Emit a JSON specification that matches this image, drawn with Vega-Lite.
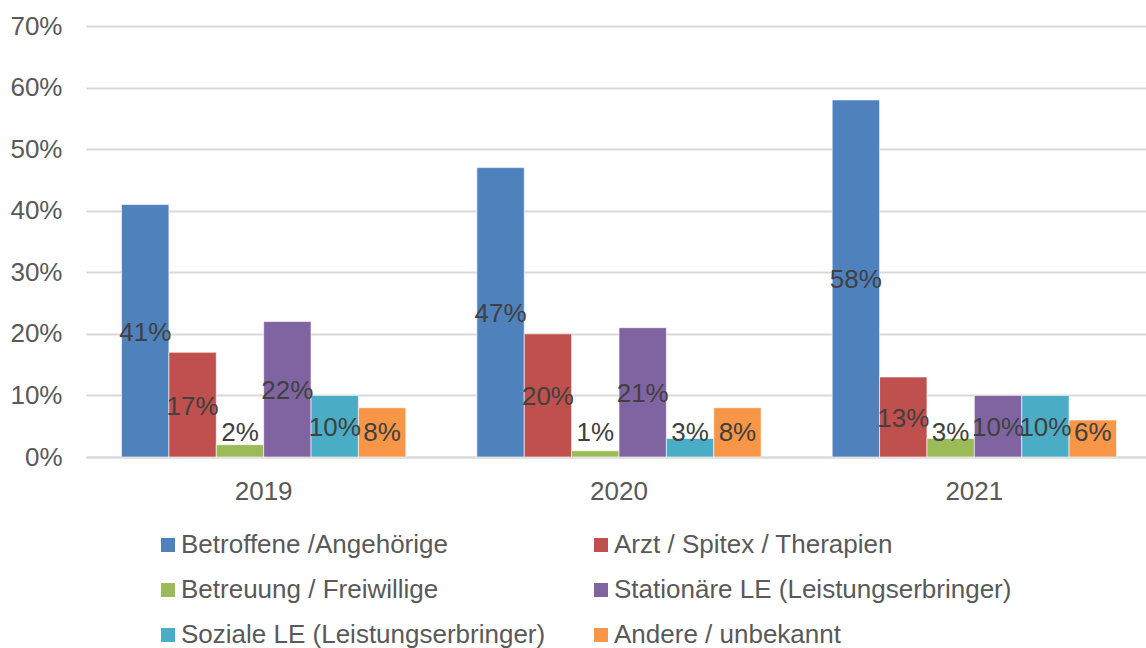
{
  "$schema": "https://vega.github.io/schema/vega-lite/v6.json",
  "width": 1060,
  "height": 431,
  "autosize": {"type": "none"},
  "padding": {"left": 86, "top": 26, "right": 0, "bottom": 191},
  "background": "white",
  "config": {
    "view": {"stroke": null},
    "font": "Liberation Sans"
  },
  "data": {
    "values": [
      {"year": "2019", "category": "Betroffene /Angehörige", "value": 0.41},
      {"year": "2019", "category": "Arzt / Spitex / Therapien", "value": 0.17},
      {"year": "2019", "category": "Betreuung / Freiwillige", "value": 0.02},
      {"year": "2019", "category": "Stationäre LE (Leistungserbringer)", "value": 0.22},
      {"year": "2019", "category": "Soziale LE (Leistungserbringer)", "value": 0.10},
      {"year": "2019", "category": "Andere / unbekannt", "value": 0.08},
      {"year": "2020", "category": "Betroffene /Angehörige", "value": 0.47},
      {"year": "2020", "category": "Arzt / Spitex / Therapien", "value": 0.20},
      {"year": "2020", "category": "Betreuung / Freiwillige", "value": 0.01},
      {"year": "2020", "category": "Stationäre LE (Leistungserbringer)", "value": 0.21},
      {"year": "2020", "category": "Soziale LE (Leistungserbringer)", "value": 0.03},
      {"year": "2020", "category": "Andere / unbekannt", "value": 0.08},
      {"year": "2021", "category": "Betroffene /Angehörige", "value": 0.58},
      {"year": "2021", "category": "Arzt / Spitex / Therapien", "value": 0.13},
      {"year": "2021", "category": "Betreuung / Freiwillige", "value": 0.03},
      {"year": "2021", "category": "Stationäre LE (Leistungserbringer)", "value": 0.10},
      {"year": "2021", "category": "Soziale LE (Leistungserbringer)", "value": 0.10},
      {"year": "2021", "category": "Andere / unbekannt", "value": 0.06}
    ]
  },
  "encoding": {
    "x": {
      "field": "year",
      "type": "nominal",
      "scale": {"range": [0, 1066], "paddingInner": 0.2, "paddingOuter": 0.1},
      "axis": {
        "title": null,
        "labelAngle": 0,
        "ticks": false,
        "domainColor": "#d9d9d9",
        "domainWidth": 2,
        "labelFontSize": 26,
        "labelColor": "#595959",
        "labelPadding": 21
      }
    },
    "xOffset": {
      "field": "category",
      "type": "nominal",
      "scale": {"domain": ["Betroffene /Angehörige", "Arzt / Spitex / Therapien", "Betreuung / Freiwillige", "Stationäre LE (Leistungserbringer)", "Soziale LE (Leistungserbringer)", "Andere / unbekannt"]}
    }
  },
  "layer": [
    {
      "mark": {"type": "bar", "stroke": "white", "strokeWidth": 1, "strokeOpacity": 0.6},
      "encoding": {
        "y": {
          "field": "value",
          "type": "quantitative",
          "scale": {"domain": [0, 0.7], "nice": false},
          "axis": {
            "title": null,
            "values": [0, 0.1, 0.2, 0.3, 0.4, 0.5, 0.6, 0.7],
            "format": ".0%",
            "ticks": false,
            "domain": false,
            "gridColor": "#d9d9d9",
            "gridWidth": 2,
            "labelFontSize": 26,
            "labelColor": "#595959",
            "labelPadding": 24
          }
        },
        "color": {
          "field": "category",
          "type": "nominal",
          "scale": {
            "domain": ["Betroffene /Angehörige", "Arzt / Spitex / Therapien", "Betreuung / Freiwillige", "Stationäre LE (Leistungserbringer)", "Soziale LE (Leistungserbringer)", "Andere / unbekannt"],
            "range": ["#4f81bd", "#c0504d", "#9bbb59", "#8064a2", "#4bacc6", "#f79646"]
          },
          "legend": {
            "title": null,
            "orient": "none",
            "direction": "horizontal",
            "legendX": 69,
            "legendY": 506,
            "columns": 2,
            "columnPadding": 42,
            "rowPadding": 19,
            "symbolType": "square",
            "symbolSize": 196,
            "symbolStrokeWidth": 0,
            "labelFontSize": 26,
            "labelColor": "#595959",
            "labelOffset": 0,
            "labelLimit": 800
          }
        }
      }
    },
    {
      "transform": [{"calculate": "max(datum.value / 2, 0.042)", "as": "labelY"}],
      "mark": {"type": "text", "fontSize": 26, "color": "#404040", "baseline": "middle", "align": "center", "dy": 2},
      "encoding": {
        "y": {"field": "labelY", "type": "quantitative"},
        "text": {"field": "value", "type": "quantitative", "format": ".0%"}
      }
    }
  ]
}
